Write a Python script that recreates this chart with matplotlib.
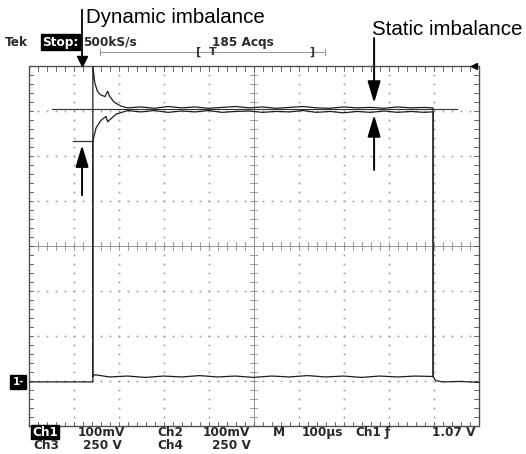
import matplotlib
matplotlib.use("Agg")
import matplotlib.pyplot as plt
import numpy as np

# --- datos (unidades: divisiones de la pantalla) ---
# eje x: 0..10 div, eje y: -4..4 div
t_flanco_subida = 1.43
t_flanco_bajada = 8.99

# tramo alto con ruido (comun a ambas corrientes)
x_alto = [2.2, 2.5, 2.8, 3.1, 3.4, 3.7, 4.0, 4.3, 4.6, 4.9, 5.2, 5.5, 5.8,
          6.1, 6.4, 6.7, 7.0, 7.3, 7.6, 7.9, 8.2, 8.5, 8.8, 8.95]
y_alto_a = [3.07, 3.09, 3.06, 3.10, 3.07, 3.09, 3.06, 3.08, 3.10, 3.07, 3.09,
            3.06, 3.08, 3.10, 3.07, 3.06, 3.09, 3.07, 3.08, 3.06, 3.09, 3.07,
            3.08, 3.07]
y_alto_b = [3.01, 2.98, 3.01, 2.97, 3.00, 2.98, 3.01, 2.97, 2.99, 3.00, 2.97,
            2.99, 2.98, 3.01, 2.97, 2.99, 2.96, 2.99, 2.97, 3.00, 2.97, 2.99,
            2.97, 2.98]

# corriente 1: sobreoscilacion al encender
x_sobre = [0.0, 1.43, 1.43, 1.47, 1.53, 1.60, 1.70, 1.76, 1.80, 1.90, 2.05]
y_sobre = [-3.02, -3.02, 4.0, 3.64, 3.44, 3.36, 3.32, 3.44, 3.33, 3.20, 3.11]

# corriente 2: arranca mas abajo y sube
x_sub = [1.43, 1.43, 1.50, 1.60, 1.72, 1.76, 1.80, 1.95]
y_sub = [-2.90, 2.33, 2.62, 2.78, 2.88, 2.76, 2.80, 2.93]

# traza inferior (nivel bajo)
x_bajo = [1.43, 1.47, 1.8, 2.2, 2.6, 3.0, 3.4, 3.8, 4.2, 4.6, 5.0, 5.4, 5.8,
          6.2, 6.6, 7.0, 7.4, 7.8, 8.2, 8.6, 8.99, 9.05, 9.2, 9.6, 10.0]
y_bajo = [-2.90, -2.86, -2.91, -2.89, -2.92, -2.89, -2.91, -2.88, -2.91,
          -2.89, -2.92, -2.89, -2.91, -2.88, -2.91, -2.89, -2.92, -2.89,
          -2.91, -2.89, -2.90, -2.99, -3.02, -3.01, -3.03]

# lineas de referencia dibujadas por el autor
ref_alta = (0.52, 9.52, 3.04)
ref_baja = (0.99, 1.43, 2.33)

# textos del osciloscopio
fila1 = [(0.08, "Ch1"), (1.10, "100mV"), (2.86, "Ch2"), (3.86, "100mV"),
         (5.43, "M"), (6.08, "100\u00b5s"), (7.26, "Ch1"), (7.92, "\u0192"),
         (8.97, "1.07 V")]
fila2 = [(0.10, "Ch3"), (1.21, "250 V"), (2.86, "Ch4"), (4.08, "250 V")]

# --- FIGURA ---
fig = plt.figure(figsize=(5.26, 4.54), dpi=100)
ax = fig.add_axes([28.5 / 526, 28 / 454, 450 / 526, 360 / 454])
ax.set_xlim(0, 10)
ax.set_ylim(-4, 4)
ax.axis("off")

gris = "#9a9a9a"
marco = "#505050"
letra = "#2a2a2a"

# reticula punteada
pasos_x = np.arange(0, 10.01, 0.2)
pasos_y = np.arange(-4, 4.01, 0.2)
for gx in range(1, 10):
    if gx != 5:
        ax.plot([gx] * len(pasos_y), pasos_y, ls="none", marker="s",
                ms=1.2, color=gris, mew=0)
for gy in range(-3, 4):
    if gy != 0:
        ax.plot(pasos_x, [gy] * len(pasos_x), ls="none", marker="s",
                ms=1.2, color=gris, mew=0)

# ejes centrales con marcas, y marcas del marco
ax.plot([0, 10], [0, 0], color="#8a8a8a", lw=0.6)
ax.plot([5, 5], [-4, 4], color="#8a8a8a", lw=0.6)
for px in pasos_x:
    ax.plot([px, px], [-0.08, 0.08], color="#8a8a8a", lw=0.6)
    ax.plot([px, px], [4, 3.9], color=marco, lw=0.6)
    ax.plot([px, px], [-4, -3.9], color=marco, lw=0.6)
for py in pasos_y:
    ax.plot([4.92, 5.08], [py, py], color="#8a8a8a", lw=0.6)
    ax.plot([0, 0.1], [py, py], color=marco, lw=0.6)
    ax.plot([10, 9.9], [py, py], color=marco, lw=0.6)

# marco
ax.plot([0, 10, 10, 0, 0], [-4, -4, 4, 4, -4], color=marco, lw=1.0,
        clip_on=False)

# lineas de referencia
ax.plot([ref_alta[0], ref_alta[1]], [ref_alta[2]] * 2, color="#333333", lw=0.8)
ax.plot([ref_baja[0], ref_baja[1]], [ref_baja[2]] * 2, color="#333333", lw=0.9)

# trazas
traza = "#1e1e1e"
ax.plot(x_sobre + x_alto + [t_flanco_bajada, t_flanco_bajada],
        y_sobre + y_alto_a + [3.07, -2.90], color=traza, lw=0.9)
ax.plot(x_sub + x_alto + [t_flanco_bajada, t_flanco_bajada],
        y_sub + y_alto_b + [2.98, -2.90], color=traza, lw=0.9)
ax.plot(x_bajo, y_bajo, color=traza, lw=0.9)

# flechas de anotacion
flecha = dict(arrowstyle="-|>,head_length=0.6,head_width=0.18",
              mutation_scale=22, color="black", lw=1.4, shrinkA=0, shrinkB=0)
ax.annotate("", xy=(1.19, 2.24), xytext=(1.19, 1.13), arrowprops=flecha,
            annotation_clip=False)
ax.annotate("", xy=(7.68, 3.18), xytext=(7.68, 4.62), arrowprops=flecha,
            annotation_clip=False)
ax.annotate("", xy=(7.68, 2.91), xytext=(7.68, 1.69), arrowprops=flecha,
            annotation_clip=False)

# flecha de disparo + texto
ax.plot([1.19, 1.19], [5.24, 4.2], color="black", lw=1.3, clip_on=False)
ax.plot([1.19], [4.12], marker="v", ms=7, color="black", clip_on=False)
ax.plot([9.9], [4.0], marker="<", ms=4.5, color="black", clip_on=False)

ax.text(1.28, 5.07, "Dynamic imbalance", fontsize=14.8,
        family="Liberation Sans", va="center", ha="left", clip_on=False)
ax.text(7.63, 4.82, "Static imbalance", fontsize=14.8,
        family="Liberation Sans", va="center", ha="left", clip_on=False)

# cabecera del osciloscopio
cab = dict(fontsize=8.7, fontweight="bold", family="DejaVu Sans",
           color=letra, va="center", ha="left", clip_on=False)
ax.text(-0.52, 4.53, "Tek", **cab)
ax.text(0.30, 4.53, "Stop:", fontsize=8.7, fontweight="bold", color="white",
        va="center", ha="left",
        bbox=dict(boxstyle="square,pad=0.1", fc="black", ec="black"))
ax.text(1.22, 4.53, "500kS/s", **cab)
ax.text(4.08, 4.53, "185 Acqs", **cab)

# barra de tiempo
ax.plot([1.59, 6.59], [4.31, 4.31], color=gris, lw=0.8, clip_on=False)
for bx in [1.59, 6.59]:
    ax.plot([bx, bx], [4.25, 4.37], color=gris, lw=0.8, clip_on=False)
for bx, simbolo in [(3.77, "["), (4.10, "T"), (6.30, "]")]:
    ax.text(bx, 4.31, simbolo, fontsize=8, fontweight="bold",
            color="#333333", va="center", ha="center", clip_on=False)

# marcador de tierra
ax.text(-0.23, -3.02, "1-", fontsize=7.5, fontweight="bold", color="white",
        va="center", ha="center", clip_on=False,
        bbox=dict(boxstyle="square,pad=0.2", fc="black", ec="black"))

# pie del osciloscopio
pie = dict(cab)
ax.text(fila1[0][0], -4.14, fila1[0][1], fontsize=8.7, fontweight="bold",
        color="white", va="center", ha="left", clip_on=False,
        bbox=dict(boxstyle="square,pad=0.05", fc="black", ec="black"))
for tx, txt in fila1[1:]:
    ax.text(tx, -4.14, txt, **pie)
for tx, txt in fila2:
    ax.text(tx, -4.44, txt, **pie)

fig.savefig("out.png", dpi=100)
